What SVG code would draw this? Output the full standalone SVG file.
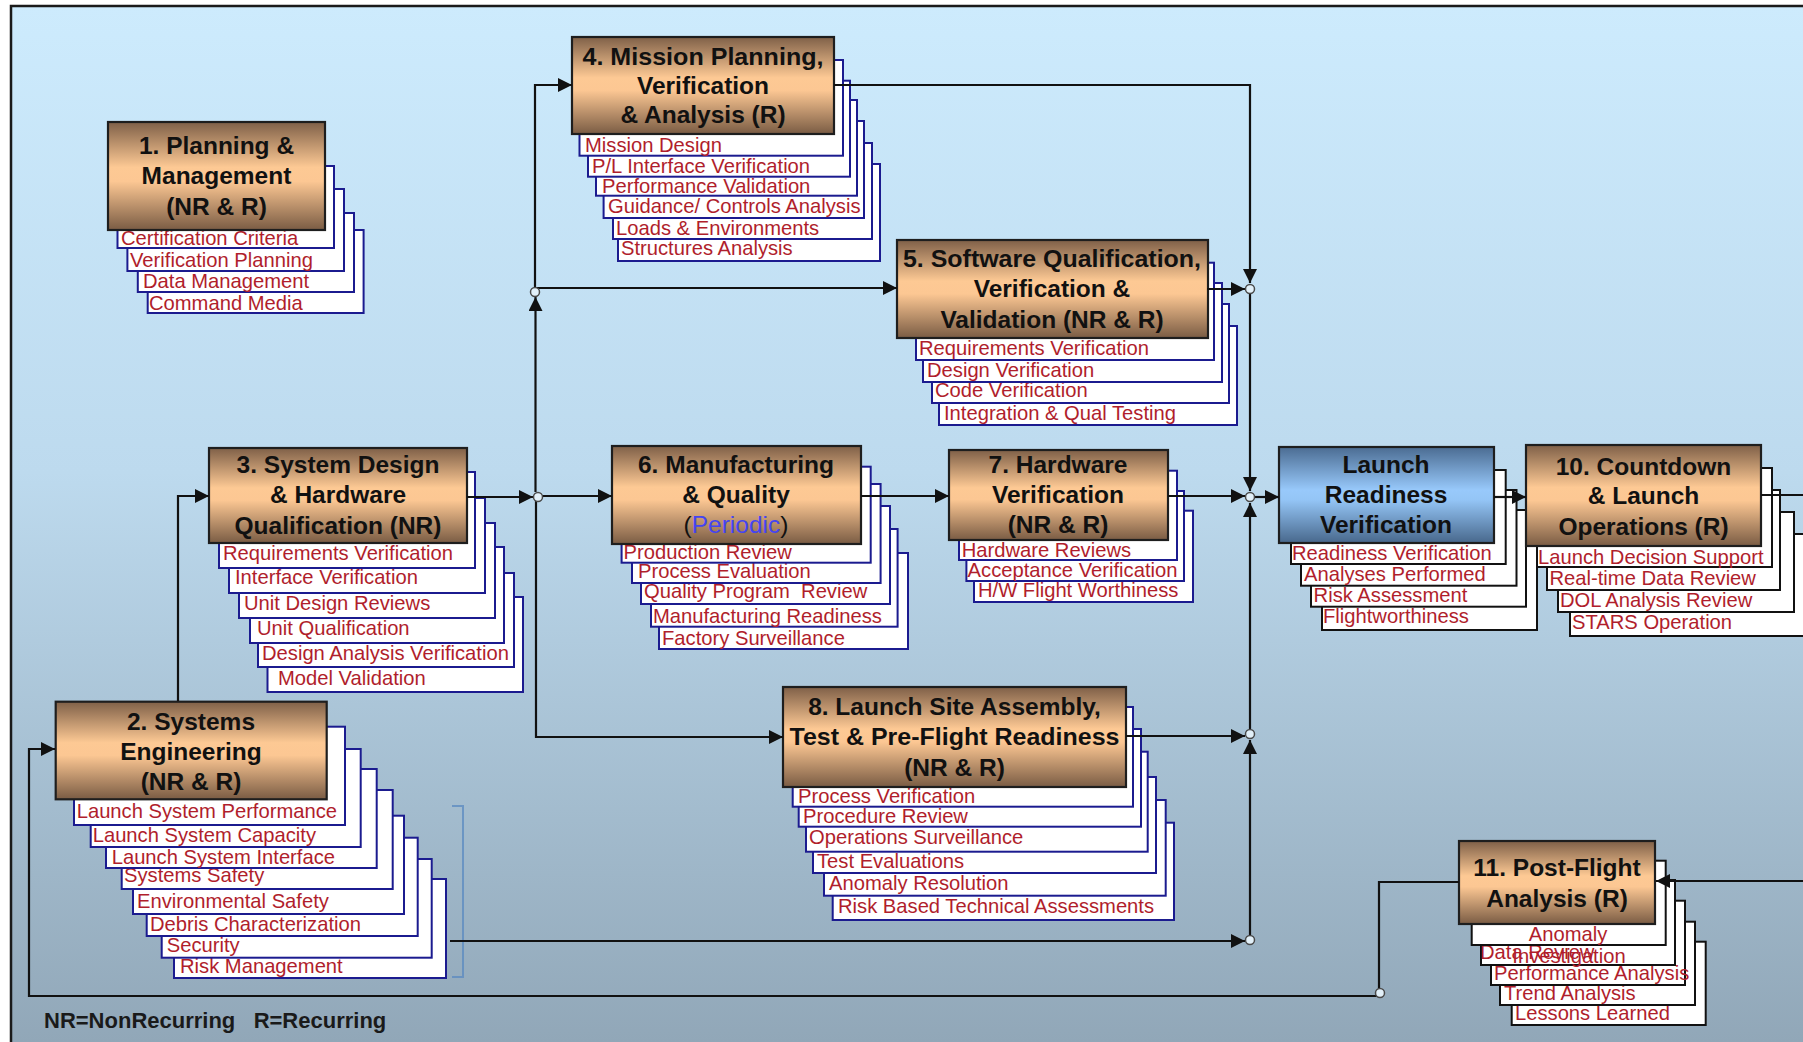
<svg xmlns="http://www.w3.org/2000/svg" width="1803" height="1042" viewBox="0 0 1803 1042">
  <defs>
    <linearGradient id="bg" gradientUnits="userSpaceOnUse" x1="0" y1="6" x2="0" y2="1042">
      <stop offset="0" stop-color="#cdebfd"/>
      <stop offset="0.45" stop-color="#bddaee"/>
      <stop offset="1" stop-color="#91a7b8"/>
    </linearGradient>
    <linearGradient id="tan" x1="0" y1="0" x2="0" y2="1">
      <stop offset="0" stop-color="#7f6048"/>
      <stop offset="0.42" stop-color="#fdc994"/>
      <stop offset="0.55" stop-color="#fcc793"/>
      <stop offset="1" stop-color="#7a5c44"/>
    </linearGradient>
    <linearGradient id="blue" x1="0" y1="0" x2="0" y2="1">
      <stop offset="0" stop-color="#4b6c92"/>
      <stop offset="0.45" stop-color="#98c9fb"/>
      <stop offset="0.55" stop-color="#94c5f6"/>
      <stop offset="1" stop-color="#48688c"/>
    </linearGradient>
    <marker id="ah" viewBox="0 0 14 14" refX="14" refY="7" markerWidth="14" markerHeight="14" markerUnits="userSpaceOnUse" orient="auto">
      <path d="M0,0 L14,7 L0,14 Z" fill="#111"/>
    </marker>
  </defs>
  <style>
    .box { stroke:#1e1e1e; stroke-width:2.2; }
    .sub { fill:#fff; stroke:#1b1b8f; stroke-width:2; }
    .subk { fill:#fff; stroke:#111; stroke-width:2; }
    .t { font-family:"Liberation Sans", Arial, sans-serif; font-weight:bold; font-size:24.5px; fill:#111; text-anchor:middle; }
    .t .reg { font-weight:normal; }
    .s { font-family:"Liberation Sans", Arial, sans-serif; font-size:20.2px; fill:#b01e2c; }
    .ln { fill:none; stroke:#111; stroke-width:2.2; }
    .arr { marker-end:url(#ah); }
    .jn { fill:#e2f0f9; stroke:#4a4a4a; stroke-width:1.5; }
    .note { font-family:"Liberation Sans", Arial, sans-serif; font-weight:bold; font-size:22px; fill:#1a1a1a; }
  </style>

  <!-- page and framed panel -->
  <rect x="0" y="0" width="1803" height="1042" fill="#fff"/>
  <rect x="11" y="6" width="1830" height="1080" fill="url(#bg)" stroke="#1a1a1a" stroke-width="2.5"/>

  <!-- 1. Planning & Management -->
  <g id="node1">
    <rect class="sub" x="147.7" y="230" width="215.9" height="83"/>
    <text class="s" x="149" y="310">Command Media</text>
    <rect class="sub" x="137.8" y="213" width="216.2" height="79"/>
    <text class="s" x="143" y="288">Data Management</text>
    <rect class="sub" x="127.4" y="189" width="216.6" height="82"/>
    <text class="s" x="130" y="267">Verification Planning</text>
    <rect class="sub" x="117.5" y="166" width="216.5" height="82"/>
    <text class="s" x="121" y="245">Certification Criteria</text>
    <rect class="box" x="108" y="122" width="217" height="108" fill="url(#tan)"/>
    <text class="t" x="216.5" y="154">1. Planning &amp;</text>
    <text class="t" x="216.5" y="184">Management</text>
    <text class="t" x="216.5" y="215">(NR &amp; R)</text>
  </g>

  <!-- 4. Mission Planning, Verification & Analysis -->
  <g id="node4">
    <rect class="sub" x="618" y="164" width="262" height="97"/>
    <text class="s" x="621" y="255">Structures Analysis</text>
    <rect class="sub" x="613" y="143" width="259" height="96"/>
    <text class="s" x="616" y="235">Loads &amp; Environments</text>
    <rect class="sub" x="603.6" y="121" width="260.4" height="97"/>
    <text class="s" x="608" y="213">Guidance/ Controls Analysis</text>
    <rect class="sub" x="596" y="100" width="261" height="95.7"/>
    <text class="s" x="602" y="192.7">Performance Validation</text>
    <rect class="sub" x="588" y="80.7" width="262" height="96"/>
    <text class="s" x="592" y="173">P/L Interface Verification</text>
    <rect class="sub" x="579.5" y="60" width="263.5" height="95.7"/>
    <text class="s" x="585" y="151.7">Mission Design</text>
    <rect class="box" x="572" y="37" width="262" height="97" fill="url(#tan)"/>
    <text class="t" x="703" y="65" textLength="241" lengthAdjust="spacingAndGlyphs">4. Mission Planning,</text>
    <text class="t" x="703" y="94">Verification</text>
    <text class="t" x="703" y="123">&amp; Analysis (R)</text>
  </g>

  <!-- 5. Software Qualification, Verification & Validation -->
  <g id="node5">
    <rect class="sub" x="939" y="326" width="298" height="99"/>
    <text class="s" x="944" y="420">Integration &amp; Qual Testing</text>
    <rect class="sub" x="932" y="304" width="297" height="99"/>
    <text class="s" x="935" y="397">Code Verification</text>
    <rect class="sub" x="923" y="283" width="299" height="99"/>
    <text class="s" x="927" y="377">Design Verification</text>
    <rect class="sub" x="916" y="262.7" width="298" height="97.3"/>
    <text class="s" x="919" y="355">Requirements Verification</text>
    <rect class="box" x="897" y="240" width="311" height="98" fill="url(#tan)"/>
    <text class="t" x="1052" y="266.7" textLength="298" lengthAdjust="spacingAndGlyphs">5. Software Qualification,</text>
    <text class="t" x="1052" y="297">Verification &amp;</text>
    <text class="t" x="1052" y="328">Validation (NR &amp; R)</text>
  </g>

  <!-- 3. System Design & Hardware Qualification -->
  <g id="node3">
    <rect class="sub" x="267.5" y="597" width="255.5" height="95"/>
    <text class="s" x="278" y="685">Model Validation</text>
    <rect class="sub" x="258" y="573" width="256" height="94"/>
    <text class="s" x="262" y="660">Design Analysis Verification</text>
    <rect class="sub" x="250" y="547" width="254" height="96"/>
    <text class="s" x="257" y="635">Unit Qualification</text>
    <rect class="sub" x="239" y="523" width="256" height="95"/>
    <text class="s" x="244" y="610">Unit Design Reviews</text>
    <rect class="sub" x="229" y="498" width="256" height="95"/>
    <text class="s" x="235" y="584">Interface Verification</text>
    <rect class="sub" x="219" y="472" width="256" height="96"/>
    <text class="s" x="223" y="560">Requirements Verification</text>
    <rect class="box" x="209" y="448" width="258" height="95" fill="url(#tan)"/>
    <text class="t" x="338" y="473">3. System Design</text>
    <text class="t" x="338" y="503">&amp; Hardware</text>
    <text class="t" x="338" y="534">Qualification (NR)</text>
  </g>

  <!-- 6. Manufacturing & Quality -->
  <g id="node6">
    <rect class="sub" x="659" y="553" width="249" height="96"/>
    <text class="s" x="662" y="645">Factory Surveillance</text>
    <rect class="sub" x="651" y="529" width="246.6" height="97.7"/>
    <text class="s" x="653" y="623">Manufacturing Readiness</text>
    <rect class="sub" x="641" y="506" width="249" height="98"/>
    <text class="s" x="644" y="598" xml:space="preserve">Quality Program  Review</text>
    <rect class="sub" x="632" y="484" width="248.6" height="99"/>
    <text class="s" x="638" y="577.7">Process Evaluation</text>
    <rect class="sub" x="621.6" y="466.7" width="249.1" height="96"/>
    <text class="s" x="623.6" y="559">Production Review</text>
    <rect class="box" x="612" y="446" width="249" height="98" fill="url(#tan)"/>
    <text class="t" x="736" y="473">6. Manufacturing</text>
    <text class="t" x="736" y="503">&amp; Quality</text>
    <text class="t" x="736" y="533"><tspan class="reg">(</tspan><tspan class="reg" fill="#4444f2">Periodic</tspan><tspan class="reg">)</tspan></text>
  </g>

  <!-- 7. Hardware Verification -->
  <g id="node7">
    <rect class="sub" x="974" y="510.7" width="219" height="91.3"/>
    <text class="s" x="978" y="596.7">H/W Flight Worthiness</text>
    <rect class="sub" x="966.4" y="491" width="217.6" height="90"/>
    <text class="s" x="967.6" y="576.7">Acceptance Verification</text>
    <rect class="sub" x="959" y="470.7" width="218" height="89.3"/>
    <text class="s" x="961.7" y="556.7">Hardware Reviews</text>
    <rect class="box" x="949" y="450" width="219" height="90" fill="url(#tan)"/>
    <text class="t" x="1058" y="473">7. Hardware</text>
    <text class="t" x="1058" y="503">Verification</text>
    <text class="t" x="1058" y="533">(NR &amp; R)</text>
  </g>

  <!-- Launch Readiness Verification -->
  <g id="lrv">
    <rect class="subk" x="1322" y="530" width="215" height="100"/>
    <text class="s" x="1323" y="623">Flightworthiness</text>
    <rect class="subk" x="1311" y="510" width="215" height="96.7"/>
    <text class="s" x="1313.6" y="601.7">Risk Assessment</text>
    <rect class="subk" x="1301" y="490" width="215.5" height="95.7"/>
    <text class="s" x="1304" y="580.7">Analyses Performed</text>
    <rect class="subk" x="1291" y="470" width="214.7" height="94"/>
    <text class="s" x="1292" y="560">Readiness Verification</text>
    <rect class="box" x="1279" y="447" width="215" height="96" fill="url(#blue)"/>
    <text class="t" x="1386" y="473">Launch</text>
    <text class="t" x="1386" y="503">Readiness</text>
    <text class="t" x="1386" y="533">Verification</text>
  </g>

  <!-- 10. Countdown & Launch Operations -->
  <g id="node10">
    <rect class="subk" x="1570" y="534" width="242" height="102"/>
    <text class="s" x="1572" y="629">STARS Operation</text>
    <rect class="subk" x="1558" y="512" width="236" height="100"/>
    <text class="s" x="1560" y="607">DOL Analysis Review</text>
    <rect class="subk" x="1547" y="490" width="233" height="100"/>
    <text class="s" x="1549.5" y="585">Real-time Data Review</text>
    <rect class="subk" x="1537" y="468" width="235" height="99"/>
    <text class="s" x="1538" y="564">Launch Decision Support</text>
    <rect class="box" x="1526" y="445" width="235" height="101" fill="url(#tan)"/>
    <text class="t" x="1643.5" y="475">10. Countdown</text>
    <text class="t" x="1643.5" y="504">&amp; Launch</text>
    <text class="t" x="1643.5" y="535">Operations (R)</text>
  </g>

  <!-- 2. Systems Engineering -->
  <g id="node2">
    <rect class="sub" x="174" y="879" width="272" height="99"/>
    <text class="s" x="180" y="972.7">Risk Management</text>
    <rect class="sub" x="161.7" y="859" width="270" height="98.7"/>
    <text class="s" x="166.7" y="951.7">Security</text>
    <rect class="sub" x="146.7" y="837.7" width="271" height="98.3"/>
    <text class="s" x="150" y="930.7">Debris Characterization</text>
    <rect class="sub" x="133" y="815.7" width="271" height="98.3"/>
    <text class="s" x="137" y="908">Environmental Safety</text>
    <rect class="sub" x="121.7" y="790" width="271" height="99"/>
    <text class="s" x="124" y="881.7">Systems Safety</text>
    <rect class="sub" x="106" y="769" width="270.7" height="99"/>
    <text class="s" x="111.7" y="864">Launch System Interface</text>
    <rect class="sub" x="90.7" y="749" width="270" height="98"/>
    <text class="s" x="92.7" y="841.7">Launch System Capacity</text>
    <rect class="sub" x="74" y="726.7" width="271" height="98.3"/>
    <text class="s" x="76.7" y="818">Launch System Performance</text>
    <rect class="box" x="55.7" y="701.7" width="271" height="97.6" fill="url(#tan)"/>
    <text class="t" x="191" y="730">2. Systems</text>
    <text class="t" x="191" y="760">Engineering</text>
    <text class="t" x="191" y="790">(NR &amp; R)</text>
  </g>

  <!-- 8. Launch Site Assembly, Test & Pre-Flight Readiness -->
  <g id="node8">
    <rect class="sub" x="832.7" y="822.7" width="341.3" height="97.3"/>
    <text class="s" x="838" y="912.7">Risk Based Technical Assessments</text>
    <rect class="sub" x="824" y="800" width="341.7" height="95.7"/>
    <text class="s" x="829" y="890">Anomaly Resolution</text>
    <rect class="sub" x="813" y="777" width="343" height="96"/>
    <text class="s" x="817" y="868">Test Evaluations</text>
    <rect class="sub" x="806" y="751.7" width="341.7" height="100"/>
    <text class="s" x="809" y="844">Operations Surveillance</text>
    <rect class="sub" x="798.7" y="729" width="342.3" height="97.7"/>
    <text class="s" x="803" y="822.7">Procedure Review</text>
    <rect class="sub" x="792.7" y="707" width="340.3" height="99.7"/>
    <text class="s" x="798" y="802.7">Process Verification</text>
    <rect class="box" x="783" y="687" width="343" height="100" fill="url(#tan)"/>
    <text class="t" x="954.5" y="715">8. Launch Site Assembly,</text>
    <text class="t" x="954.5" y="745" textLength="330" lengthAdjust="spacingAndGlyphs">Test &amp; Pre-Flight Readiness</text>
    <text class="t" x="954.5" y="776">(NR &amp; R)</text>
  </g>

  <!-- 11. Post-Flight Analysis -->
  <g id="node11">
    <rect class="subk" x="1511.7" y="941.7" width="194" height="83.3"/>
    <text class="s" x="1515" y="1020">Lessons Learned</text>
    <rect class="subk" x="1500" y="921.7" width="195" height="83.3"/>
    <text class="s" x="1504" y="1000">Trend Analysis</text>
    <rect class="subk" x="1491" y="900.7" width="194" height="84.3"/>
    <text class="s" x="1494" y="980">Performance Analysis</text>
    <rect class="subk" x="1481" y="880" width="194" height="85"/>
    <text class="s" x="1480" y="959">Data Review</text>
    <rect class="subk" x="1471.7" y="860.7" width="194" height="84.3"/>
    <text class="s" x="1568" y="940.7" text-anchor="middle">Anomaly</text>
    <text class="s" x="1569" y="963" text-anchor="middle">Investigation</text>
    <rect class="box" x="1459" y="841" width="196" height="83" fill="url(#tan)"/>
    <text class="t" x="1557" y="876">11. Post-Flight</text>
    <text class="t" x="1557" y="907">Analysis (R)</text>
  </g>

  <!-- bracket grouping the Systems Engineering items -->
  <path d="M452,806 H463 V977 H452" fill="none" stroke="#5a8ac0" stroke-width="2" stroke-opacity="0.75"/>

  <!-- flow connectors -->
  <g id="connectors">
    <path class="ln arr" d="M178,701 V496 H209"/>
    <path class="ln arr" d="M467,497 H533"/>
    <path class="ln arr" d="M542,496 H612"/>
    <path class="ln arr" d="M535.5,492 V297"/>
    <path class="ln arr" d="M535,287 V85 H572"/>
    <path class="ln arr" d="M535,288 H897"/>
    <path class="ln arr" d="M536,501 V737 H783"/>
    <path class="ln arr" d="M834,85 H1250 V283"/>
    <path class="ln arr" d="M1207,289 H1245"/>
    <path class="ln arr" d="M1250,294 V491"/>
    <path class="ln arr" d="M861,496 H949"/>
    <path class="ln arr" d="M1168,496 H1245"/>
    <path class="ln arr" d="M1255,497 H1279"/>
    <path class="ln arr" d="M1250,729 V503"/>
    <path class="ln arr" d="M1126,736 H1245"/>
    <path class="ln arr" d="M1250,935 V740"/>
    <path class="ln arr" d="M450,941 H1245"/>
    <path class="ln arr" d="M1494,497 H1526"/>
    <path class="ln" d="M1761,495 H1803"/>
    <path class="ln arr" d="M1803,881 H1656"/>
    <path class="ln arr" d="M1459,882 H1379 V996 H29 V749 H55"/>
    <circle class="jn" cx="535" cy="292" r="4.5"/>
    <circle class="jn" cx="538" cy="497" r="4.5"/>
    <circle class="jn" cx="1250" cy="289" r="4.5"/>
    <circle class="jn" cx="1250" cy="497" r="4.5"/>
    <circle class="jn" cx="1250" cy="734" r="4.5"/>
    <circle class="jn" cx="1250" cy="940" r="4.5"/>
    <circle class="jn" cx="1380" cy="993" r="4.5"/>
  </g>

  <!-- legend -->
  <text class="note" x="44" y="1028" xml:space="preserve">NR=NonRecurring   R=Recurring</text>
</svg>
